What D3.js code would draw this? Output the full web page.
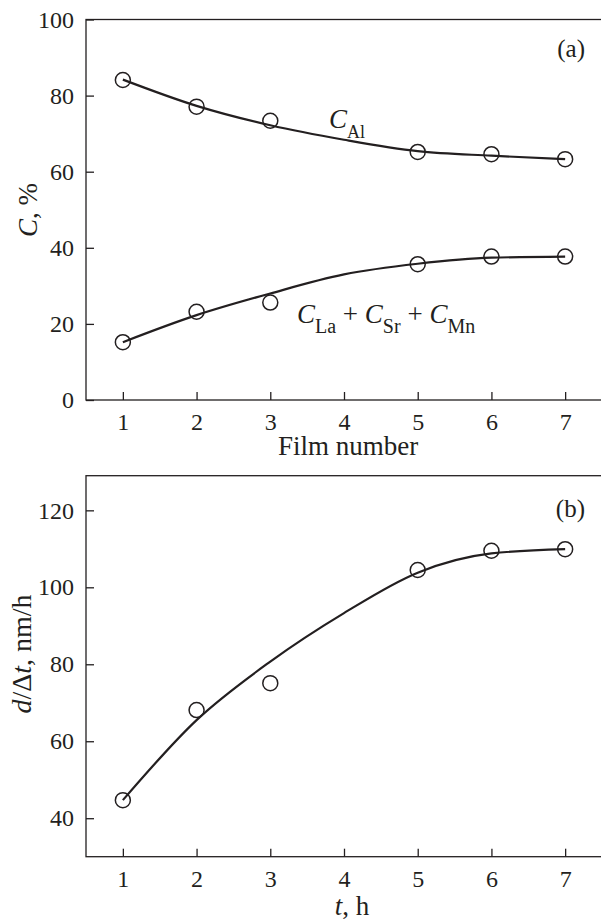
<!DOCTYPE html>
<html>
<head>
<meta charset="utf-8">
<script src="https://cdn.jsdelivr.net/npm/d3@7"></script>
<style>
  body { margin: 0; background: #fff; }
  svg text { font-family: 'Liberation Serif', 'Times New Roman', serif; fill: #231f20; }
</style>
</head>
<body>
<div id="chart"></div>
<script>
// measured points
const filmNumbers = [1, 2, 3, 5, 6, 7]
const cAl = [84.1, 77.1, 73.4, 65.2, 64.6, 63.3]
const cSum = [15.2, 23.2, 25.6, 35.7, 37.7, 37.7]
const rate = [44.7, 68.1, 75.1, 104.5, 109.5, 109.9]

// fitted curves
const fitX = [1, 2, 3, 4, 5, 6, 7]
const cAlFit = [84.2, 77.3, 72.2, 68.4, 65.4, 64.2, 63.3]
const cSumFit = [15.2, 22.3, 28.0, 33.0, 35.8, 37.4, 37.7]
const rateFit = [44.7, 65.5, 80.7, 93.3, 103.8, 108.8, 109.9]

const xTicks = [1, 2, 3, 4, 5, 6, 7]
const yTicksA = [0, 20, 40, 60, 80, 100]
const yTicksB = [40, 60, 80, 100, 120]

const ink = '#231f20'
const width = 601
const height = 919

const svg = d3.select('#chart')
  .append('svg')
  .attr('width', width)
  .attr('height', height)

const x = d3.scaleLinear().domain([0.5, 7.5]).range([86, 602])
const fmt = d3.format('d')

const drawPanel = ({ top, bottom, yDomain, yTicks }) => {
  const y = d3.scaleLinear().domain(yDomain).range([bottom, top])
  const g = svg.append('g')

  // frame (right edge falls just outside the picture)
  g.append('rect')
    .attr('x', 86)
    .attr('y', top)
    .attr('width', 516)
    .attr('height', bottom - top)
    .attr('fill', 'none')
    .attr('stroke', ink)
    .attr('stroke-width', 1.3)

  const xAxis = g.append('g')
    .attr('transform', `translate(0, ${bottom})`)
    .call(d3.axisBottom(x).tickValues(xTicks).tickFormat(fmt)
      .tickSize(-8).tickSizeOuter(0).tickPadding(13))
  const yAxis = g.append('g')
    .attr('transform', 'translate(86, 0)')
    .call(d3.axisLeft(y).tickValues(yTicks).tickFormat(fmt)
      .tickSize(-8).tickSizeOuter(0).tickPadding(12))

  for (const axis of [xAxis, yAxis]) {
    axis.select('.domain').remove()
    axis.selectAll('line').attr('stroke', ink).attr('stroke-width', 1.3)
    axis.selectAll('text').attr('font-size', 24).attr('fill', ink)
      .style('font-family', "'Liberation Serif', serif")
  }
  return { g, y }
}

const line = y => d3.line()
  .x(d => x(d[0]))
  .y(d => y(d[1]))
  .curve(d3.curveMonotoneX)

const drawSeries = (g, y, xs, ys, fitYs) => {
  g.append('path')
    .datum(fitX.map((v, i) => [v, fitYs[i]]))
    .attr('d', line(y))
    .attr('fill', 'none')
    .attr('stroke', ink)
    .attr('stroke-width', 2.2)
  g.selectAll(null)
    .data(xs.map((v, i) => [v, ys[i]]))
    .enter()
    .append('circle')
    .attr('cx', d => x(d[0]))
    .attr('cy', d => y(d[1]))
    .attr('r', 7.5)
    .attr('fill', 'none')
    .attr('stroke', ink)
    .attr('stroke-width', 1.5)
}

// label with italic C and roman subscript
const cLabel = (g, px, py, subs, subSize) => {
  const t = g.append('text').attr('x', px).attr('y', py).attr('font-size', 27)
  subs.forEach((s, i) => {
    if (i > 0) t.append('tspan').attr('dy', -10).text(' + ')
    t.append('tspan').attr('font-style', 'italic').attr('dy', i > 0 ? 0 : null).text('C')
    t.append('tspan').attr('font-size', subSize).attr('dy', 10).text(s)
  })
}

// (a)
const a = drawPanel({ top: 19.5, bottom: 400, yDomain: [0, 100], yTicks: yTicksA })
drawSeries(a.g, a.y, filmNumbers, cAl, cAlFit)
drawSeries(a.g, a.y, filmNumbers, cSum, cSumFit)
a.g.append('text').attr('x', 585).attr('y', 57).attr('text-anchor', 'end')
  .attr('font-size', 25).text('(a)')
cLabel(a.g, 329, 128, ['Al'], 18)
cLabel(a.g, 297, 323, ['La', 'Sr', 'Mn'], 20)
a.g.append('text').attr('x', 348).attr('y', 455).attr('text-anchor', 'middle')
  .attr('font-size', 27).text('Film number')
const aTitle = a.g.append('text')
  .attr('transform', 'translate(37, 210) rotate(-90)')
  .attr('text-anchor', 'middle')
  .attr('font-size', 27)
aTitle.append('tspan').attr('font-style', 'italic').text('C')
aTitle.append('tspan').text(', %')

// (b)
const b = drawPanel({ top: 475.7, bottom: 856.7, yDomain: [30, 129], yTicks: yTicksB })
drawSeries(b.g, b.y, filmNumbers, rate, rateFit)
b.g.append('text').attr('x', 585).attr('y', 517).attr('text-anchor', 'end')
  .attr('font-size', 25).text('(b)')
const bX = b.g.append('text').attr('x', 352).attr('y', 915).attr('text-anchor', 'middle')
  .attr('font-size', 27)
bX.append('tspan').attr('font-style', 'italic').text('t')
bX.append('tspan').text(', h')
const bTitle = b.g.append('text')
  .attr('transform', 'translate(31, 654) rotate(-90)')
  .attr('text-anchor', 'middle')
  .attr('font-size', 28)
bTitle.append('tspan').attr('font-style', 'italic').text('d')
bTitle.append('tspan').text('/Δ')
bTitle.append('tspan').attr('font-style', 'italic').text('t')
bTitle.append('tspan').text(', nm/h')
</script>
</body>
</html>
